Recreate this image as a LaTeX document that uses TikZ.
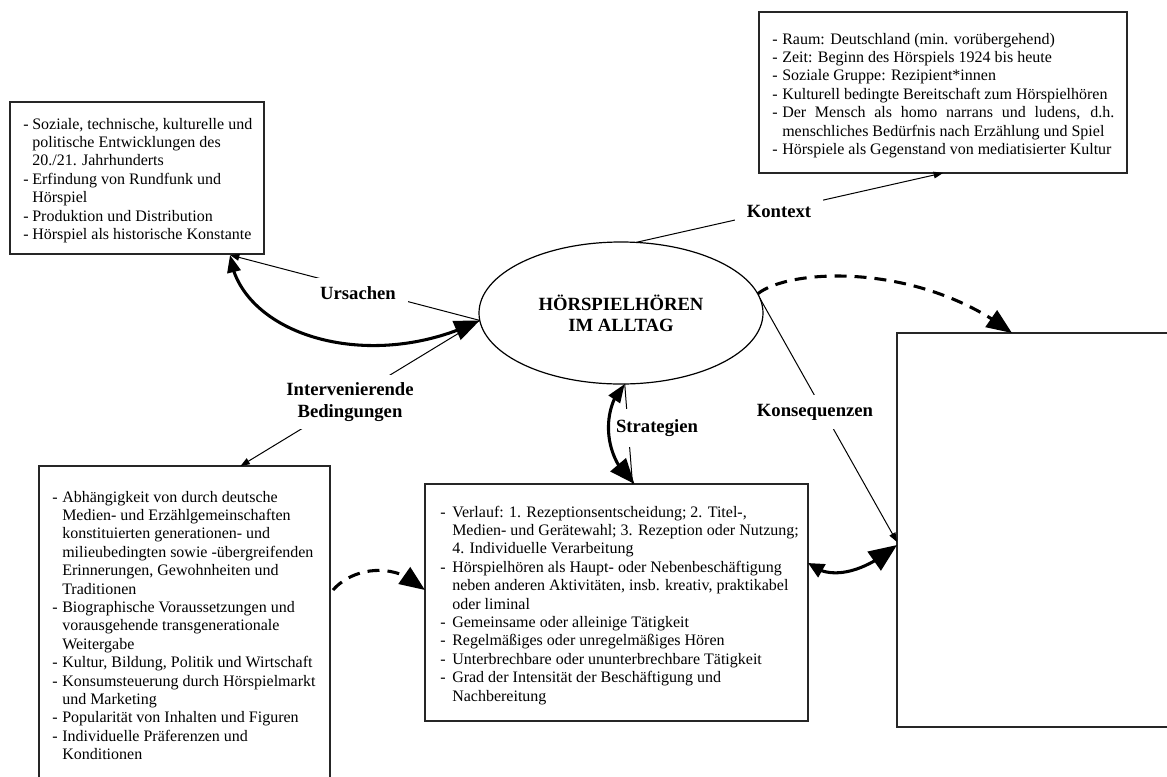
\documentclass[tikz,border=0pt]{standalone}
\usepackage{fontspec}
\setmainfont{Liberation Serif}
\usetikzlibrary{arrows.meta,bending,shapes.geometric,fit,calc}
\newcommand{\dsh}[1]{\makebox[#1][l]{-}}
\begin{document}
\begin{tikzpicture}[x=0.75pt,y=-0.75pt,
  box/.style={draw=black!85, line width=0.9pt, inner sep=0pt, outer sep=0pt},
  txt/.style={anchor=base west, inner sep=0pt, font=\fontsize{12pt}{13.8pt}\selectfont},
  lab/.style={fill=white, inner xsep=9pt, inner ysep=6pt, font=\fontsize{14pt}{16pt}\selectfont\bfseries},
  thinarrow/.style={line width=0.75pt, -{Triangle[length=7pt,width=5pt]}},
  thinline/.style={line width=0.75pt},
  thickarrow/.style={line width=2.3pt},
  dasharrow/.style={line width=2.3pt, dash pattern=on 9pt off 6pt, -{Triangle[length=19pt,width=15pt]}}
]
\useasboundingbox (0,0) rectangle (1167,776);
\clip (0,0) rectangle (1167,776);
\fill[white] (0,0) rectangle (1167,776);

% boxes
\node[box, fit={(10,102) (264,254)}] (box1) {};
\node[box, fit={(759,12) (1127,173)}] (box2) {};
\node[box, fit={(39,466) (330,800)}] (box3) {};
\node[box, fit={(425,484) (808,721)}] (box4) {};
\node[box, fit={(897,333) (1185,727)}] (box5) {};

% central ellipse
\node[ellipse, draw, line width=0.9pt, minimum width=213pt, minimum height=106.5pt, inner sep=0pt, outer sep=0pt,
      align=center, font=\fontsize{14pt}{16pt}\selectfont\bfseries] (main) at (621,313) {HÖRSPIELHÖREN\\IM ALLTAG};

% box texts
\node[txt] (t1) at (23,129) {\begin{tabular}[t]{@{}l@{}l@{}}
\dsh{6.8pt} & Soziale, technische, kulturelle und\\
 & politische Entwicklungen des\\
 & 20./21. Jahrhunderts\\
\dsh{6.8pt} & Erfindung von Rundfunk und\\
 & Hörspiel\\
\dsh{6.8pt} & Produktion und Distribution\\
\dsh{6.8pt} & Hörspiel als historische Konstante
\end{tabular}};

\node[txt] (t2) at (772,44) {\begin{tabular}[t]{@{}l@{}l@{}}
\dsh{7.5pt} & Raum: Deutschland (min. vorübergehend)\\
\dsh{7.5pt} & Zeit: Beginn des Hörspiels 1924 bis heute\\
\dsh{7.5pt} & Soziale Gruppe: Rezipient*innen\\
\dsh{7.5pt} & Kulturell bedingte Bereitschaft zum Hörspielhören\\
\dsh{7.5pt} & \makebox[249pt][s]{Der Mensch als homo narrans und ludens, d.h.}\\
 & menschliches Bedürfnis nach Erzählung und Spiel\\
\dsh{7.5pt} & Hörspiele als Gegenstand von mediatisierter Kultur
\end{tabular}};

\node[txt] (t3) at (52,502) {\begin{tabular}[t]{@{}l@{}l@{}}
\dsh{7.5pt} & Abhängigkeit von durch deutsche\\
 & Medien- und Erzählgemeinschaften\\
 & konstituierten generationen- und\\
 & milieubedingten sowie -übergreifenden\\
 & Erinnerungen, Gewohnheiten und\\
 & Traditionen\\
\dsh{7.5pt} & Biographische Voraussetzungen und\\
 & vorausgehende transgenerationale\\
 & Weitergabe\\
\dsh{7.5pt} & Kultur, Bildung, Politik und Wirtschaft\\
\dsh{7.5pt} & Konsumsteuerung durch Hörspielmarkt\\
 & und Marketing\\
\dsh{7.5pt} & Popularität von Inhalten und Figuren\\
\dsh{7.5pt} & Individuelle Präferenzen und\\
 & Konditionen
\end{tabular}};

\node[txt] (t4) at (440,517) {\begin{tabular}[t]{@{}l@{}l@{}}
\dsh{9pt} & Verlauf: 1. Rezeptionsentscheidung; 2. Titel-,\\
 & Medien- und Gerätewahl; 3. Rezeption oder Nutzung;\\
 & 4. Individuelle Verarbeitung\\
\dsh{9pt} & Hörspielhören als Haupt- oder Nebenbeschäftigung\\
 & neben anderen Aktivitäten, insb. kreativ, praktikabel\\
 & oder liminal\\
\dsh{9pt} & Gemeinsame oder alleinige Tätigkeit\\
\dsh{9pt} & Regelmäßiges oder unregelmäßiges Hören\\
\dsh{9pt} & Unterbrechbare oder ununterbrechbare Tätigkeit\\
\dsh{9pt} & Grad der Intensität der Beschäftigung und\\
 & Nachbereitung
\end{tabular}};

% thin connectors
\draw[thinarrow] (main.78.8) -- (box2.south);
\draw[thinarrow] (main.183.7) -- ($(box1.south east)+(-34,1)$);
\draw[thinarrow] (main.183.7) -- ($(box3.north)+(56,0)$);
\draw[thinline] (main.273) -- ($(box4.north)+(16,0)$);
\draw[thinarrow] (main.6.5) -- ($(box5.north west)+(0,209)$);

% labels
\node[lab] (lkontext) at (779,211) {Kontext};
\node[lab] (lursachen) at (358,293) {Ursachen};
\node[lab, align=center, inner xsep=4pt] (linterv) at (350,402) {Intervenierende\\Bedingungen};
\node[lab, inner xsep=1pt, inner ysep=8pt] (lstrat) at (657,428) {Strategien};
\node[lab, inner xsep=2pt, inner ysep=7pt] (lkons) at (815,412) {Konsequenzen};

% thick double arrows
\draw[thickarrow, {Triangle[length=13pt,width=10pt]}-{Triangle[length=19pt,width=15pt]}]
  ($(box1.south east)+(-34,1)$) .. controls (240,335) and (370,375) .. (main.183.7);
\draw[thickarrow, {Triangle[length=14pt,width=10pt]}-{Triangle[length=19pt,width=15pt]}]
  (main.273) .. controls (603,405) and (600,455) .. ($(box4.north)+(18,0)$);
\draw[thickarrow, {Triangle[length=12pt,width=11pt]}-{Triangle[length=21pt,width=17pt]}]
  ($(box4.north east)+(0,79)$) .. controls (830,582) and (865,572) .. ($(box5.north west)+(0,212)$);

% dashed arrows
\draw[dasharrow] (main.8.2) .. controls (790,268) and (920,262) .. ($(box5.north west)+(115,0)$);
\draw[dasharrow] ($(box3.north east)+(3,124)$) .. controls (352,568) and (395,560) .. ($(box4.north west)+(0,106)$);
\end{tikzpicture}
\end{document}
